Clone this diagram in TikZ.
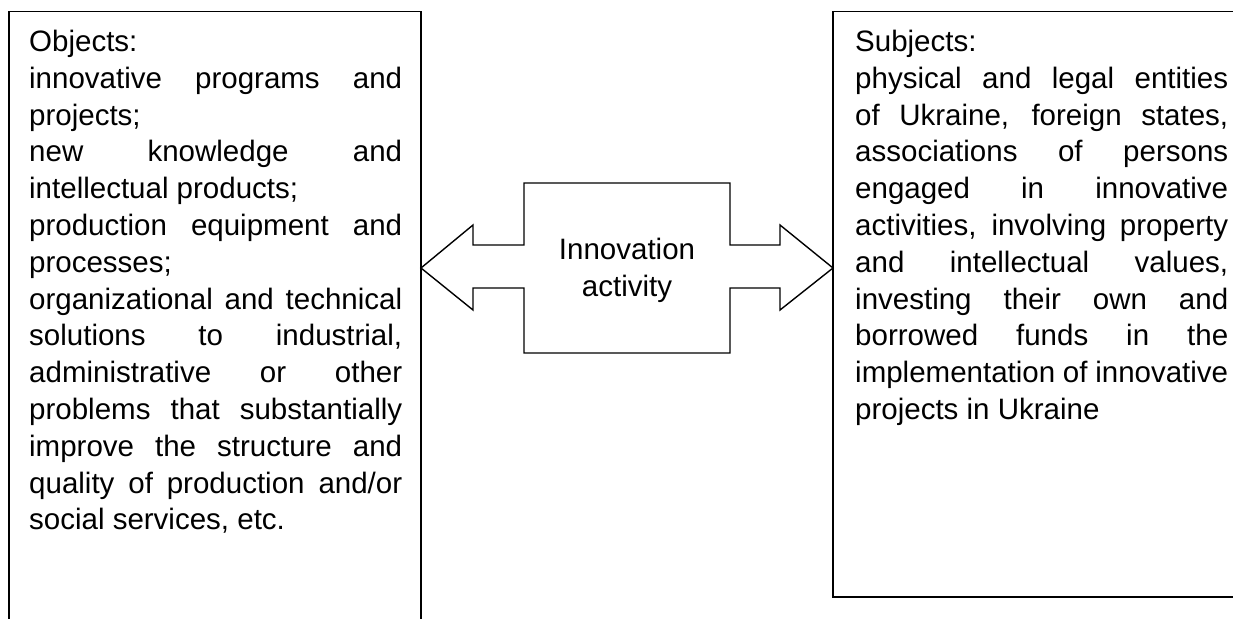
\documentclass[tikz,border=0pt]{standalone}
\usepackage{fontspec}
\setmainfont{Liberation Sans}
\newcommand\bodyfont{\fontsize{29.5}{36.8}\selectfont\hyphenpenalty=10000\exhyphenpenalty=10000\tolerance=10000\parindent=0pt}
\tikzset{
  boxline/.style={line width=1.4pt, draw=black, line join=miter},
  bodytext/.style={anchor=north west, inner sep=0pt, text width=373pt, align=justify, font=\bodyfont},
  centertext/.style={inner sep=0pt, align=center, font=\bodyfont},
}
\begin{document}
\begin{tikzpicture}[x=1pt,y=-1pt]
\useasboundingbox (0,0) rectangle (1233,618);
\clip (0,0) rectangle (1233,618);
% boxes
\draw[boxline] (9,640) -- (9,11.5) -- (421,11.5) -- (421,640);
\draw[boxline] (1250,597) -- (833,597) -- (833,11.5) -- (1250,11.5);
% double arrow
\draw[boxline] (421,268) -- (473,225) -- (473,245) -- (524,245) -- (524,183)
  -- (730,183) -- (730,245) -- (780,245) -- (780,225) -- (833,268)
  -- (780,310) -- (780,288) -- (730,288) -- (730,353) -- (524,353)
  -- (524,288) -- (473,288) -- (473,310) -- cycle;
\node[bodytext] (objects) at (29,30) {Objects:\par
innovative programs and\linebreak projects;\par
new knowledge and\linebreak intellectual products;\par
production equipment and\linebreak processes;\par
organizational and technical\linebreak solutions to industrial,\linebreak administrative or other\linebreak problems that substantially\linebreak improve the structure and\linebreak quality of production and/or\linebreak social services, etc.\par};
\node[bodytext] (subjects) at (855,30) {Subjects:\par
physical and legal entities\linebreak of Ukraine, foreign states,\linebreak associations of persons\linebreak engaged in innovative\linebreak activities, involving property\linebreak and intellectual values,\linebreak investing their own and\linebreak borrowed funds in the\linebreak implementation of innovative\linebreak projects in Ukraine\par};
\node[centertext] (activity) at (627,270) {Innovation\\activity};
\end{tikzpicture}
\end{document}
